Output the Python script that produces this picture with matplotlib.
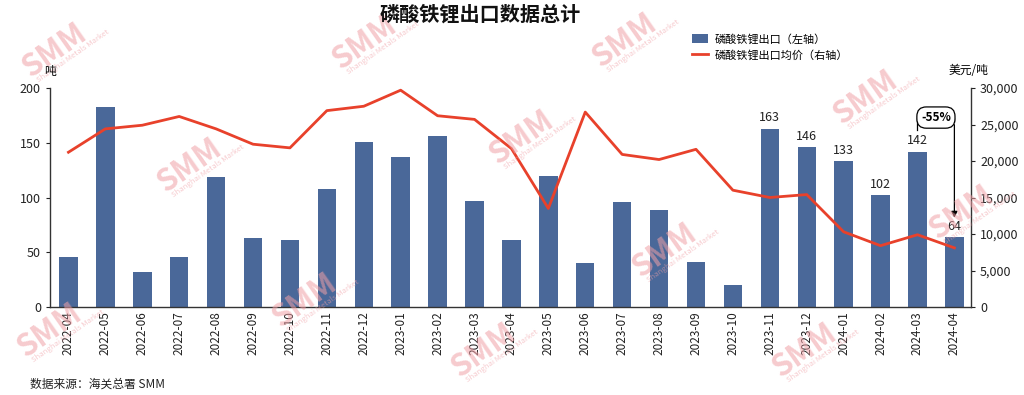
import matplotlib
matplotlib.use("Agg")
import matplotlib.pyplot as plt
from matplotlib.ticker import FuncFormatter

plt.rcParams['font.family'] = ['Noto Sans CJK SC', 'DejaVu Sans']

months = ["2022-04", "2022-05", "2022-06", "2022-07", "2022-08", "2022-09",
          "2022-10", "2022-11", "2022-12", "2023-01", "2023-02", "2023-03",
          "2023-04", "2023-05", "2023-06", "2023-07", "2023-08", "2023-09",
          "2023-10", "2023-11", "2023-12", "2024-01", "2024-02", "2024-03",
          "2024-04"]
# export volume, tonnes (left axis)
volume = [46, 183, 32, 46, 119, 63, 61, 108, 151, 137, 156, 97, 61, 120,
          40, 96, 89, 41, 20, 163, 146, 133, 102, 142, 64]
# average export price, USD/t (right axis)
price = [21200, 24400, 24900, 26100, 24400, 22300, 21800, 26900, 27500,
         29700, 26200, 25700, 21700, 13500, 26700, 20900, 20200, 21600,
         16000, 15000, 15400, 10300, 8400, 9900, 8100]
labelled = 6  # last n bars carry value labels
change_text = "-55%"

BAR = "#4a6899"
LINE = "#e8412b"
AX = "#333333"

fig = plt.figure(figsize=(10.24, 3.95), dpi=100)
ax = fig.add_axes([50 / 1024, 88 / 395, 921 / 1024, 219 / 395])
ax2 = ax.twinx()

x = list(range(len(months)))
ax.bar(x, volume, width=0.5, color=BAR, label="磷酸铁锂出口（左轴）", zorder=2)
ax2.plot(x, price, color=LINE, lw=2.0, label="磷酸铁锂出口均价（右轴）", zorder=3)

ax.set_xlim(-0.5, len(months) - 0.55)
ax.set_ylim(0, 200)
ax2.set_ylim(0, 30000)
ax.set_yticks([0, 50, 100, 150, 200])
ax2.set_yticks(range(0, 30001, 5000))
ax2.yaxis.set_major_formatter(FuncFormatter(lambda v, p: f"{int(v):,}"))
ax.set_xticks(x)
ax.set_xticklabels(months, rotation=90, fontsize=8.5, color="#222222")

for a in (ax, ax2):
    a.spines['top'].set_visible(False)
    a.tick_params(axis='y', labelsize=9, colors="#222222", length=3, width=0.8)
    for s in a.spines.values():
        s.set_color(AX)
        s.set_linewidth(1.0)
ax.spines['right'].set_visible(False)
ax2.spines['left'].set_visible(False)
ax2.spines['bottom'].set_visible(False)
ax.tick_params(axis='x', length=0, pad=3)

# value labels on the latest bars
for i in x[-labelled:]:
    ax.text(i, volume[i] + 4, f"{volume[i]}", ha="center", va="bottom",
            fontsize=9, color="#222222")

# month-on-month change bracket
i0, i1 = x[-2], x[-1]
y_top = volume[i0] + 31
ax.plot([i0, i0, i1, i1], [volume[i0] + 20, y_top, y_top, y_top - 4],
        color="black", lw=0.9, zorder=4)
ax.annotate("", xy=(i1, volume[i1] + 15), xytext=(i1, y_top - 4),
            arrowprops=dict(arrowstyle="-|>", color="black", lw=0.9,
                            mutation_scale=9), zorder=4)
ax.text((i0 + i1) / 2, y_top, change_text, ha="center", va="center",
        fontsize=8.5, fontweight="bold", zorder=5,
        bbox=dict(boxstyle="round,pad=0.35,rounding_size=0.8", fc="white",
                  ec="black", lw=0.9))

# units
fig.text(50 / 1024, 1 - 72 / 395, "吨", ha="center", va="center", fontsize=8.5)
fig.text(968 / 1024, 1 - 70 / 395, "美元/吨", ha="center", va="center", fontsize=8.5)

# title and legend
fig.text(480 / 1024, 1 - 14 / 395, "磷酸铁锂出口数据总计", ha="center", va="center",
         fontsize=14.5, fontweight="bold", color="#111111")
h1, l1 = ax.get_legend_handles_labels()
h2, l2 = ax2.get_legend_handles_labels()
fig.legend(h1 + h2, l1 + l2, loc="upper left",
           bbox_to_anchor=(682 / 1024, 1 - 24 / 395), frameon=False,
           fontsize=8, handlelength=1.4, handleheight=0.9, labelspacing=0.45,
           handletextpad=0.6)

fig.text(30 / 1024, 1 - 384 / 395, "数据来源：海关总署 SMM", ha="left", va="center",
         fontsize=8.5, color="#222222")

# SMM watermarks
marks = [(55, 50), (190, 165), (365, 42), (50, 330), (305, 300), (522, 137),
         (665, 250), (625, 40), (866, 97), (805, 350), (962, 212), (484, 350)]
for mx, my in marks:
    fig.text(mx / 1024, 1 - my / 395, "SMM", ha="center", va="center",
             fontsize=22, fontweight="black", color="#f0a0a6", alpha=0.55,
             rotation=35, zorder=0)
    fig.text((mx + 18) / 1024, 1 - (my + 6) / 395, "Shanghai Metals Market",
             ha="center", va="center", fontsize=5.5, color="#f0a0a6",
             alpha=0.55, rotation=35, zorder=0)

fig.savefig("out.png", dpi=100)
